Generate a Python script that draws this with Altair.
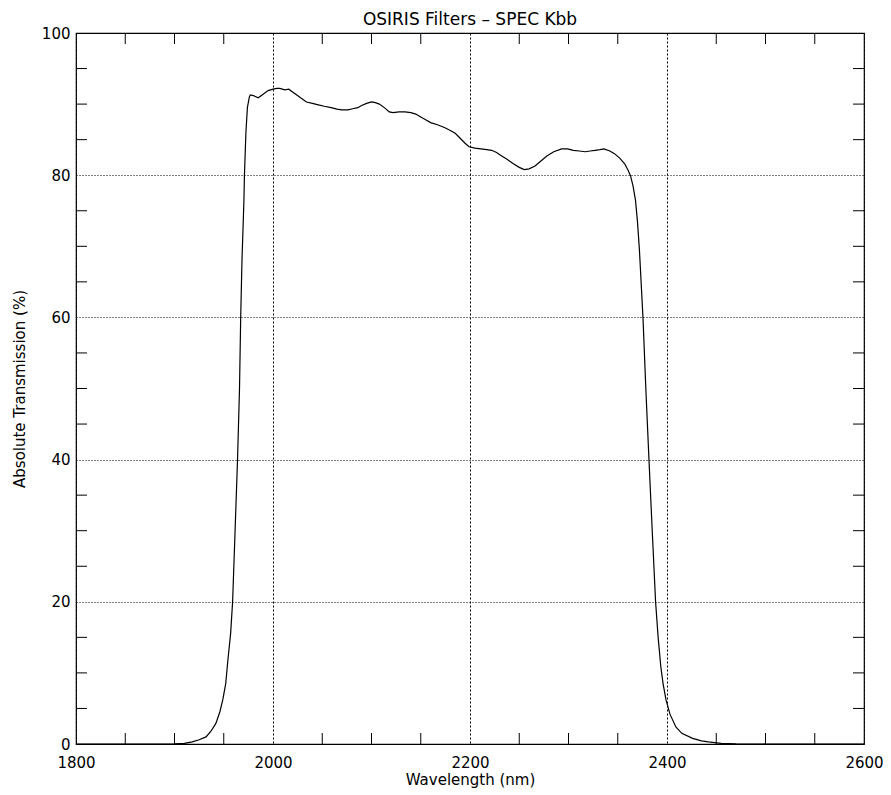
import altair as alt
import pandas as pd

# Transmission curve
wavelength = [1800, 1850, 1880, 1900, 1910, 1918, 1925, 1932, 1937, 1942, 1946, 1949,
              1952, 1954, 1957, 1959, 1961.5, 1964, 1966, 1967.2, 1968.5, 1970.5, 1971,
              1972.5, 1974, 1976, 1977, 1980, 1985, 1990, 1995, 2000, 2004, 2007, 2012,
              2016, 2022, 2028, 2034, 2040, 2046, 2052, 2059, 2065, 2070, 2076, 2081,
              2086, 2090, 2095, 2100, 2104, 2108, 2114, 2118, 2122, 2128, 2134, 2140,
              2145, 2150, 2155, 2160, 2167, 2174, 2180, 2185, 2190, 2195, 2199, 2205,
              2211, 2217, 2222, 2227, 2231, 2238, 2244, 2250, 2255, 2260, 2266, 2272,
              2278, 2285, 2293, 2299, 2305, 2311, 2317, 2322, 2327, 2332, 2336, 2342,
              2347, 2352, 2357, 2360.5, 2363, 2365.5, 2368, 2370, 2372, 2375.6, 2378.5,
              2381.7, 2385, 2388.4, 2391, 2393.7, 2396, 2399, 2403, 2409, 2415, 2426,
              2435, 2442, 2455, 2470, 2500, 2550, 2600]
transmission = [0.0, 0.0, 0.0, 0.02, 0.1, 0.3, 0.6, 1.0, 1.8, 2.9, 4.5, 6.2,
                8.5, 11.5, 15.6, 20.0, 30.0, 40.0, 50.0, 60.0, 68.0, 76.5, 80.0,
                86.0, 89.5, 91.0, 91.3, 91.2, 90.9, 91.4, 91.9, 92.1, 92.2, 92.2, 92.0,
                92.1, 91.5, 90.9, 90.3, 90.1, 89.9, 89.7, 89.5, 89.3, 89.2, 89.2, 89.35,
                89.5, 89.8, 90.1, 90.3, 90.2, 90.0, 89.4, 88.9, 88.8, 88.9, 88.9, 88.8,
                88.6, 88.2, 87.8, 87.4, 87.1, 86.7, 86.3, 85.9, 85.2, 84.5, 84.0, 83.8,
                83.7, 83.6, 83.5, 83.2, 82.8, 82.2, 81.6, 81.1, 80.8, 80.9, 81.3, 82.0,
                82.7, 83.3, 83.7, 83.7, 83.5, 83.4, 83.3, 83.4, 83.5, 83.6, 83.7, 83.4,
                83.0, 82.4, 81.6, 80.7, 79.9, 78.5, 76.5, 73.5, 69.5, 60.0, 50.0,
                40.0, 30.0, 20.0, 15.0, 10.9, 8.5, 6.2, 4.2, 2.4, 1.5, 0.8,
                0.45, 0.3, 0.1, 0.03, 0.0, 0.0, 0.0]

x_major = [1800, 2000, 2200, 2400, 2600]
y_major = [0, 20, 40, 60, 80, 100]
x_minor = [1850, 1900, 1950, 2050, 2100, 2150, 2250, 2300, 2350, 2450, 2500, 2550]
y_minor = [5, 10, 15, 25, 30, 35, 45, 50, 55, 65, 70, 75, 85, 90, 95]

W, H = 788, 711
TICK = 11
FONT = "DejaVu Sans"

curve = pd.DataFrame({"wl": wavelength, "t": transmission})
xm = pd.DataFrame({"wl": x_minor})
ym = pd.DataFrame({"t": y_minor})

xscale = alt.Scale(domain=[1800, 2600], nice=False, zero=False)
yscale = alt.Scale(domain=[0, 100], nice=False)

xaxis = alt.Axis(values=x_major, title="Wavelength (nm)", format="d",
                 grid=True, gridDash=[2, 2], gridColor="black",
                 gridOpacity=1, ticks=False, domain=False,
                 labelFont=FONT, labelFontSize=15, labelColor="black",
                 labelPadding=11, labelFlush=False,
                 titleFont=FONT, titleFontSize=15, titleFontWeight="normal",
                 titleColor="black", titlePadding=2)
yaxis = alt.Axis(values=y_major, title="Absolute Transmission (%)",
                 grid=True, gridDash=[1, 2], gridColor="black",
                 gridOpacity=1, ticks=False, domain=False,
                 labelFont=FONT, labelFontSize=15, labelColor="black",
                 labelPadding=6,
                 titleFont=FONT, titleFontSize=15, titleFontWeight="normal",
                 titleColor="black", titlePadding=14)


def xenc():
    return alt.X("wl:Q", scale=xscale, axis=xaxis)


def yenc():
    return alt.Y("t:Q", scale=yscale, axis=yaxis)


line = alt.Chart(curve).mark_line(color="black", strokeWidth=1.2).encode(
    x=xenc(), y=yenc())

x_top = alt.Chart(xm).mark_rule(color="black", strokeWidth=1).encode(
    x=xenc(), y=alt.value(0), y2=alt.value(TICK))
x_bot = alt.Chart(xm).mark_rule(color="black", strokeWidth=1).encode(
    x=xenc(), y=alt.value(H - TICK), y2=alt.value(H))
y_left = alt.Chart(ym).mark_rule(color="black", strokeWidth=1).encode(
    y=yenc(), x=alt.value(0), x2=alt.value(TICK))
y_right = alt.Chart(ym).mark_rule(color="black", strokeWidth=1).encode(
    y=yenc(), x=alt.value(W - TICK), x2=alt.value(W))

chart = alt.layer(line, x_top, x_bot, y_left, y_right).properties(
    width=W, height=H,
    background="white",
    title=alt.TitleParams("OSIRIS Filters – SPEC Kbb", font=FONT, fontSize=17,
                          fontWeight="normal", color="black", offset=-3),
    autosize=alt.AutoSizeParams(type="none"),
    padding={"left": 68, "top": 25, "right": 19, "bottom": 52},
).configure_view(stroke="black", strokeWidth=1.2)

chart.save("out.html", embed_options={"renderer": "svg", "actions": False})
